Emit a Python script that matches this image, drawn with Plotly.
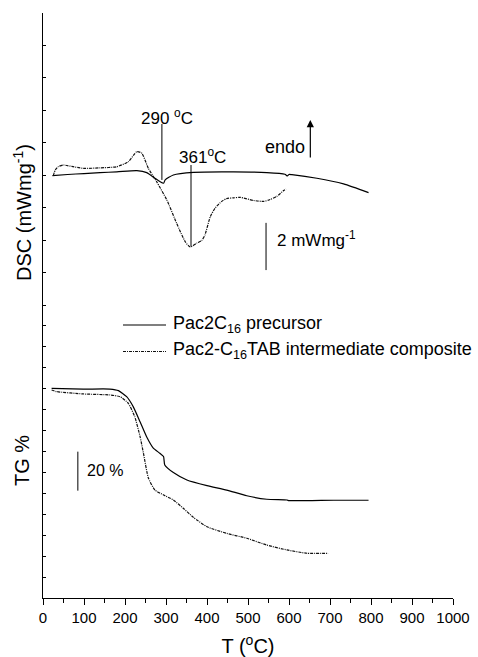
import plotly.graph_objects as go

# ---------------- data ----------------
# DSC (mW/mg, arbitrary baseline offset) of Pac2C16 precursor
dsc_pre_T = [23, 60, 100, 139, 180, 229, 253, 273, 285, 294, 298, 318, 367, 465,
             546, 590, 596, 600, 607, 668, 733, 794]
dsc_pre_v = [0.0, 0.05, 0.09, 0.13, 0.16, 0.21, 0.13, -0.11, -0.25, -0.32, -0.18,
             0.03, 0.14, 0.16, 0.13, 0.06, -0.01, 0.05, 0.04, -0.11, -0.35, -0.72]

# DSC of Pac2-C16TAB intermediate composite
dsc_comp_T = [25, 30, 37, 50, 70, 98, 140, 180, 208, 229, 241, 257, 277, 302, 326,
              347, 359, 375, 387, 395, 408, 420, 436, 448, 465, 481, 513, 538, 554,
              570, 587, 593]
dsc_comp_v = [0.0, 0.24, 0.38, 0.45, 0.39, 0.31, 0.33, 0.38, 0.59, 1.02, 0.95, 0.31,
              -0.25, -1.03, -2.02, -2.80, -3.02, -2.86, -2.75, -2.51, -1.74, -1.37,
              -1.09, -0.97, -0.94, -0.92, -1.05, -1.09, -1.01, -0.88, -0.63, -0.56]

# TG (%) of Pac2C16 precursor
tg_pre_T = [21, 98, 163, 184, 204, 220, 237, 253, 269, 285, 294, 297, 318, 351, 400,
            448, 497, 546, 595, 600, 709, 794]
tg_pre_v = [100.0, 99.6, 99.6, 98.8, 95.7, 90.6, 82.7, 75.0, 69.3, 66.7, 65.0, 60.7,
            56.8, 53.0, 50.1, 47.8, 44.9, 43.1, 42.7, 42.4, 42.6, 42.6]

# TG (%) of Pac2-C16TAB intermediate composite
tg_comp_T = [21, 33, 98, 163, 188, 208, 224, 237, 245, 257, 273, 294, 318, 342, 367,
             400, 448, 497, 546, 595, 644, 696]
tg_comp_v = [99.1, 98.3, 97.1, 96.6, 95.7, 92.3, 85.3, 75.0, 66.7, 54.0, 47.8, 45.3,
             42.7, 38.5, 33.8, 29.0, 25.6, 23.1, 19.6, 17.1, 15.4, 15.4]

x_ticks = list(range(0, 1001, 100))
series_names = ["Pac2C<sub>16</sub> precursor",
                "Pac2-C<sub>16</sub>TAB intermediate composite"]

# ---------------- layout geometry ----------------
W, H = 478, 657
ML, MR, MT, MB = 43, 25, 13, 59
plot_w = W - ML - MR
plot_h = H - MT - MB

TG_RANGE = [-7.54, 292.46]
DSC_RANGE = [-17.89, 6.89]

dsc_tick0, dsc_step = 6.907, 1.377
dsc_ticks = [dsc_tick0 - dsc_step * k for k in range(10)]
tg_tick0, tg_step = -7.54, 10.73
tg_ticks = [tg_tick0 + tg_step * k for k in range(14)]

FONT = "Arial, Liberation Sans, sans-serif"
DASH = "3px,1px,1px,1px"
line_styles = [dict(color="black", width=1.2),
               dict(color="#111", width=1.2, dash=DASH)]

def px_to_paper_x(px):
    return (px - ML) / plot_w

def px_to_paper_y(py):
    return (H - MB - py) / plot_h

fig = go.Figure()
fig.add_trace(go.Scatter(x=dsc_pre_T, y=dsc_pre_v, yaxis="y2", mode="lines",
                         line=dict(**line_styles[0], shape="spline", smoothing=0.6),
                         name=series_names[0]))
fig.add_trace(go.Scatter(x=dsc_comp_T, y=dsc_comp_v, yaxis="y2", mode="lines",
                         line=dict(**line_styles[1], shape="spline", smoothing=0.6),
                         name=series_names[1]))
fig.add_trace(go.Scatter(x=tg_pre_T, y=tg_pre_v, mode="lines",
                         line=dict(**line_styles[0], shape="spline", smoothing=0.5),
                         name=series_names[0]))
fig.add_trace(go.Scatter(x=tg_comp_T, y=tg_comp_v, mode="lines",
                         line=dict(**line_styles[1], shape="spline", smoothing=0.5),
                         name=series_names[1]))

annotations = [
    dict(x=302, y=2.5, xref="x", yref="y2", text="290 <sup>o</sup>C", showarrow=False,
         font=dict(size=17)),
    dict(x=389, y=0.83, xref="x", yref="y2", text="361<sup>o</sup>C", showarrow=False,
         font=dict(size=17)),
    dict(x=591, y=1.23, xref="x", yref="y2", text="endo", showarrow=False,
         font=dict(size=18)),
    dict(x=652, y=2.36, xref="x", yref="y2", ax=652, ay=0.71, axref="x", ayref="y2",
         text="", showarrow=True, arrowhead=2, arrowsize=1.2, arrowwidth=1.2,
         arrowcolor="black"),
    dict(x=566, y=-2.68, xref="x", yref="y2", text="2 mWmg<sup>-1</sup>",
         xanchor="left", showarrow=False, font=dict(size=17)),
    dict(x=102, y=58.1, xref="x", yref="y", text="20 %", xanchor="left",
         showarrow=False, font=dict(size=16)),
    dict(x=px_to_paper_x(22), y=px_to_paper_y(213), xref="paper", yref="paper",
         xanchor="center", yanchor="middle",
         text="DSC (mWmg<sup>-1</sup>)", textangle=-90, showarrow=False,
         font=dict(size=20)),
    dict(x=px_to_paper_x(22), y=px_to_paper_y(461), xref="paper", yref="paper",
         xanchor="center", yanchor="middle",
         text="TG %", textangle=-90, showarrow=False, font=dict(size=20)),
]

shapes = [
    dict(type="line", xref="x", yref="y2", x0=290, x1=290, y0=2.19, y1=-0.18,
         line=dict(color="black", width=1)),
    dict(type="line", xref="x", yref="y2", x0=361, x1=361, y0=0.45, y1=-3.0,
         line=dict(color="black", width=1)),
    dict(type="line", xref="x", yref="y2", x0=544, x1=544, y0=-2.0, y1=-4.0,
         line=dict(color="black", width=1)),
    dict(type="line", xref="x", yref="y", x0=85, x1=85, y0=67.5, y1=47.5,
         line=dict(color="black", width=1)),
]

# manual legend (line sample + label)
legend_rows_px = [325, 351.5]
for name, style, ry in zip(series_names, line_styles, legend_rows_px):
    shapes.append(dict(type="line", xref="paper", yref="paper",
                       x0=px_to_paper_x(123), x1=px_to_paper_x(166),
                       y0=px_to_paper_y(ry), y1=px_to_paper_y(ry), line=style))
    annotations.append(dict(x=px_to_paper_x(171), y=px_to_paper_y(ry - 1),
                            xref="paper", yref="paper", xanchor="left",
                            yanchor="middle", text=name, showarrow=False,
                            font=dict(size=18)))

fig.update_layout(
    width=W, height=H,
    margin=dict(l=ML, r=MR, t=MT, b=MB, autoexpand=False),
    paper_bgcolor="white", plot_bgcolor="white",
    font=dict(family=FONT, color="black"),
    showlegend=False,
    xaxis=dict(range=[0, 1000], tickvals=x_ticks, ticks="outside", ticklen=6,
               tickcolor="black", showline=True, linecolor="black", linewidth=1,
               showgrid=False, zeroline=False, tickfont=dict(size=15),
               minor=dict(dtick=50, tick0=0, ticks="outside", ticklen=4,
                          tickcolor="black", showgrid=False),
               title=dict(text="T (<sup>o</sup>C)", font=dict(size=20), standoff=14)),
    yaxis=dict(range=TG_RANGE, tickvals=tg_ticks, ticks="inside", ticklen=3,
               tickcolor="black", showticklabels=False, showline=True,
               linecolor="black", linewidth=1, showgrid=False, zeroline=False),
    yaxis2=dict(range=DSC_RANGE, tickvals=dsc_ticks, ticks="inside", ticklen=3,
                tickcolor="black", showticklabels=False, showline=False,
                overlaying="y", side="left", anchor="x", showgrid=False,
                zeroline=False),
    annotations=annotations,
    shapes=shapes,
)

fig.write_html("out.html")
